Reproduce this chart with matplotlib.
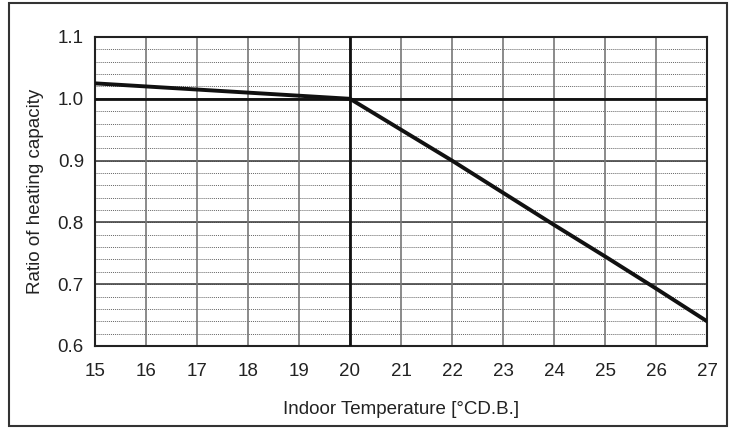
import numpy as np
import matplotlib
matplotlib.use('Agg')
import matplotlib.pyplot as plt
from matplotlib.patches import Rectangle

plt.rcParams['font.family'] = ['Liberation Sans', 'DejaVu Sans']

# indoor temperature [deg C D.B.] and ratio of heating capacity
temp = [15, 16, 17, 18, 19, 20, 21, 22, 23, 24, 25, 26, 27]
ratio = [1.025, 1.02, 1.015, 1.01, 1.005, 1.0, 0.95, 0.90, 0.848, 0.796, 0.745, 0.693, 0.64]

x_ticks = list(range(15, 28))
y_ticks = [0.6, 0.7, 0.8, 0.9, 1.0, 1.1]
y_minor = np.arange(0.6, 1.1001, 0.02)

W, H = 731, 428
fig = plt.figure(figsize=(W / 100, H / 100), dpi=100)
ax = fig.add_axes([95 / W, 1 - 346 / H, 612 / W, 309 / H])

# dotted minor lines
for y in y_minor:
    ax.axhline(y, color='#666666', linewidth=0.7, linestyle=(0, (1, 1)), zorder=1)
# major lines
for y in y_ticks:
    ax.axhline(y, color='#444444', linewidth=1.2, zorder=2)
for x in x_ticks:
    ax.axvline(x, color='#777777', linewidth=1.2, zorder=2)
ax.axhline(1.0, color='#111111', linewidth=2.0, zorder=3)
ax.axvline(20, color='#111111', linewidth=2.0, zorder=3)

ax.plot(temp, ratio, color='#111111', linewidth=2.8, zorder=4)

ax.set_xlim(15, 27)
ax.set_ylim(0.6, 1.1)
ax.set_xticks(x_ticks)
ax.set_yticks(y_ticks)
ax.set_yticklabels(['%.1f' % v for v in y_ticks])
ax.tick_params(length=0, labelsize=13.5, colors='#222222')
ax.tick_params(axis='y', pad=8)
ax.tick_params(axis='x', pad=12)
for s in ax.spines.values():
    s.set_color('#222222')
    s.set_linewidth(1.5)

ax.set_xlabel('Indoor Temperature [°CD.B.]', fontsize=13.5, color='#222222', labelpad=15)
ax.set_ylabel('Ratio of heating capacity', fontsize=13.5, color='#222222', labelpad=10)

fig.patches.append(Rectangle((9 / W, 1 - 426 / H), 718 / W, 423 / H,
                             transform=fig.transFigure, fill=False,
                             edgecolor='#333333', linewidth=1.5))

fig.savefig('out.png', dpi=100)
